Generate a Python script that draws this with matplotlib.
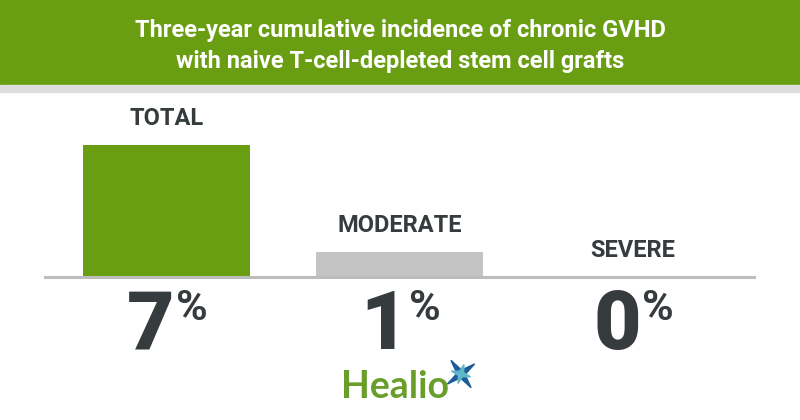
import matplotlib.pyplot as plt
from matplotlib.patches import Rectangle, Polygon
import numpy as np

# data
categories = ["TOTAL", "MODERATE", "SEVERE"]
values = [7.0, 1.3, 0.0]          # bar heights
labels = ["7", "1", "0"]          # printed percentages
colors = ["#6a9e12", "#c4c4c4", "#c4c4c4"]
title = "Three-year cumulative incidence of chronic GVHD\nwith naive T-cell-depleted stem cell grafts"

W, H = 800, 420
fig = plt.figure(figsize=(8, 4.2), dpi=100)
fig.patch.set_facecolor("white")

def fx(px):
    return px / W

def fy(py):
    return 1 - py / H

# header band
fig.patches.append(Rectangle((0, fy(85)), 1, 85 / H, transform=fig.transFigure,
                             color="#6a9e12", zorder=0))
fig.patches.append(Rectangle((0, fy(92)), 1, 7 / H, transform=fig.transFigure,
                             color="#dedede", zorder=0))
fig.text(0.5, fy(46), title, ha="center", va="center", color="white",
         fontsize=17, fontweight="bold", linespacing=1.42, family="Roboto")

# bar axes: x centers at 166.5 + 233*i, baseline at y=277 px
ax = fig.add_axes([fx(50), fy(277), 699 / W, 151 / H])
ax.set_xlim(-0.5, 2.5)
ax.set_ylim(0, 8)
ax.axis("off")
x = np.arange(len(categories))
ax.bar(x, values, width=0.717, color=colors, zorder=2)
ax.plot([-0.52, 2.52], [0, 0], color="#bdbdbd", lw=2.2, clip_on=False, zorder=3)

dark = "#363b3d"
for i, (c, v, lab) in enumerate(zip(categories, values, labels)):
    ax.annotate(c, (i, v), xytext=(0, 11), textcoords="offset points",
                ha="center", va="bottom", fontsize=17, fontweight="bold",
                color=dark, family="Roboto")
    ax.annotate(lab, (i, 0), xytext=(6, -8), textcoords="offset points",
                ha="right", va="top", fontsize=59, fontweight="heavy",
                color=dark, family="Roboto")
    ax.annotate("%", (i, 0), xytext=(7, -8), textcoords="offset points",
                ha="left", va="top", fontsize=31, fontweight="bold",
                color=dark, family="Roboto")

# Healio logo
fig.text(fx(341), fy(398), "Healio", ha="left", va="baseline", fontsize=27,
         fontweight="bold", color="#6a9e2a", family="Lato")
cx, cy = 461, 374
def star(cx, cy, r, ri, rot):
    pts = []
    for k in range(8):
        ang = rot + k * np.pi / 4
        rr = r if k % 2 == 0 else ri
        pts.append((fx(cx + rr * np.cos(ang)), fy(cy + rr * np.sin(ang))))
    return pts
fig.patches.append(Polygon(star(cx, cy, 17, 4, np.pi / 4 + 0.15), closed=True,
                           transform=fig.transFigure, color="#1d5b9a"))
fig.patches.append(Polygon(star(cx, cy, 10, 3, 0.3), closed=True,
                           transform=fig.transFigure, color="#5fb7c9"))

fig.savefig("out.png", dpi=100)
